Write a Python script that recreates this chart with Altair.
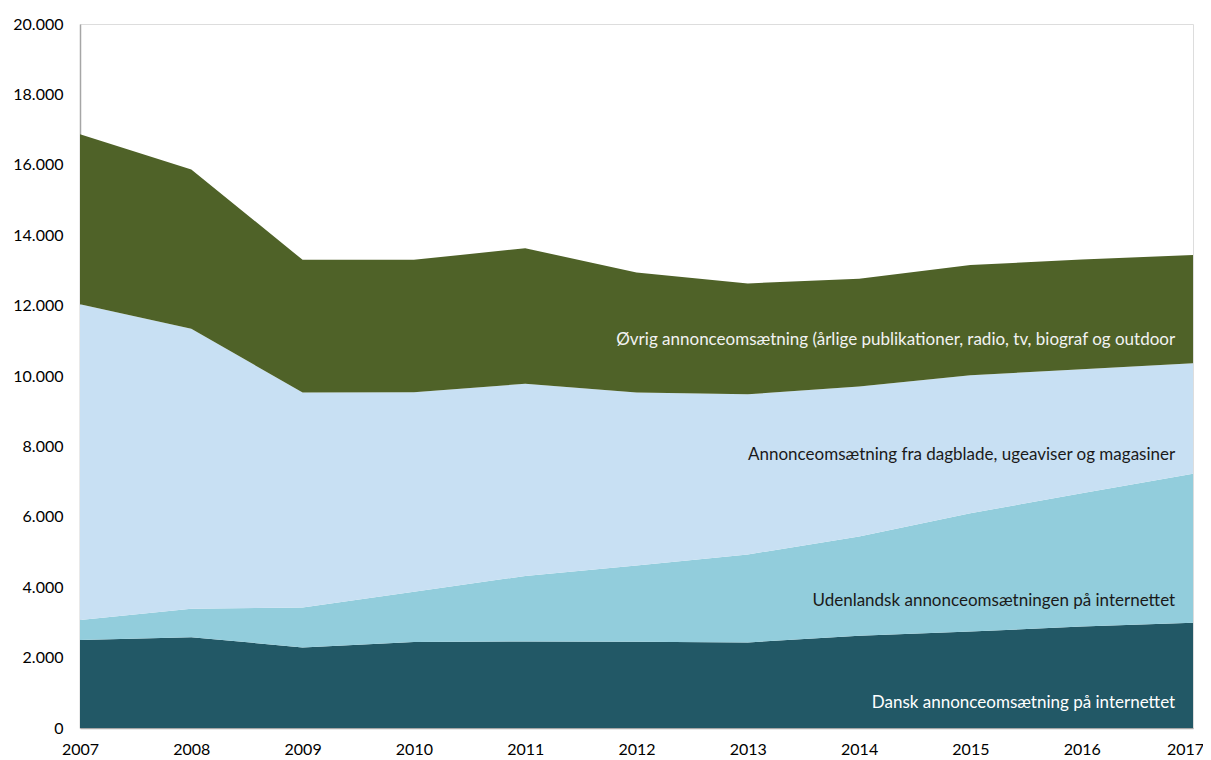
import altair as alt
import pandas as pd

years = [2007, 2008, 2009, 2010, 2011, 2012, 2013, 2014, 2015, 2016, 2017]
series_names = [
    "Dansk annonceomsætning på internettet",
    "Udenlandsk annonceomsætningen på internettet",
    "Annonceomsætning fra dagblade, ugeaviser og magasiner",
    "Øvrig annonceomsætning (årlige publikationer, radio, tv, biograf og outdoor",
]
dansk = [2500, 2580, 2290, 2440, 2460, 2450, 2430, 2620, 2740, 2880, 2990]
udenlandsk = [570, 810, 1130, 1430, 1860, 2170, 2500, 2820, 3360, 3790, 4230]
dagblade = [8970, 7950, 6110, 5670, 5460, 4910, 4550, 4260, 3920, 3520, 3140]
ovrig = [4830, 4530, 3770, 3760, 3850, 3410, 3150, 3060, 3130, 3120, 3080]
colors = ["#225866", "#92CDDC", "#C8E0F3", "#4F6228"]

label_x = [2016.84, 2016.84, 2016.84, 2016.84]
label_y = [700, 3610, 7760, 11020]
label_colors = ["#FFFFFF", "#1A1A1A", "#1A1A1A", "#F2F2F2"]

rows = []
for si, (name, vals) in enumerate(zip(series_names, [dansk, udenlandsk, dagblade, ovrig])):
    for y, v in zip(years, vals):
        rows.append({"year": y, "value": v, "series": name, "order": si})
df = pd.DataFrame(rows)

lab = pd.DataFrame({"x": label_x, "y": label_y, "text": series_names, "color": label_colors})

FONT = "Lato"

x_axis = alt.X(
    "year:Q",
    scale=alt.Scale(domain=[2007, 2017], nice=False, zero=False),
    axis=alt.Axis(values=years, format="d", title=None, ticks=False, grid=False,
                  domainColor="#A6A6A6", domainWidth=1.5, labelFontSize=16,
                  labelColor="#000000", labelPadding=13, labelFont=FONT,
                  labelFlush=False,
                  labelOffset={"condition": {"test": "datum.value === 2017", "value": -8}, "value": 0}),
)

area = alt.Chart(df).mark_area(opacity=1, interpolate="linear").encode(
    x=x_axis,
    y=alt.Y("value:Q", stack="zero",
            scale=alt.Scale(domain=[0, 20000], nice=False),
            axis=alt.Axis(values=list(range(0, 20001, 2000)), format=",.0f",
                          labelExpr="replace(datum.label, ',', '.')",
                          title=None, ticks=False, grid=False,
                          domainColor="#A6A6A6", domainWidth=1.5,
                          labelFontSize=16, labelColor="#000000",
                          labelPadding=17, labelFont=FONT)),
    color=alt.Color("series:N", scale=alt.Scale(domain=series_names, range=colors), legend=None),
    order=alt.Order("order:Q"),
)

text = alt.Chart(lab).mark_text(align="right", baseline="middle", fontSize=17, font=FONT).encode(
    x=alt.X("x:Q"),
    y=alt.Y("y:Q"),
    text="text:N",
    color=alt.Color("color:N", scale=None),
)

chart = alt.layer(area, text).properties(
    width=1113, height=704,
    autosize=alt.AutoSizeParams(type="none"),
    padding={"left": 72, "top": 16, "right": 10, "bottom": 30},
).configure_view(stroke=None).configure(background="#FFFFFF")

chart.save("out.html", embed_options={"renderer": "svg", "actions": False})
